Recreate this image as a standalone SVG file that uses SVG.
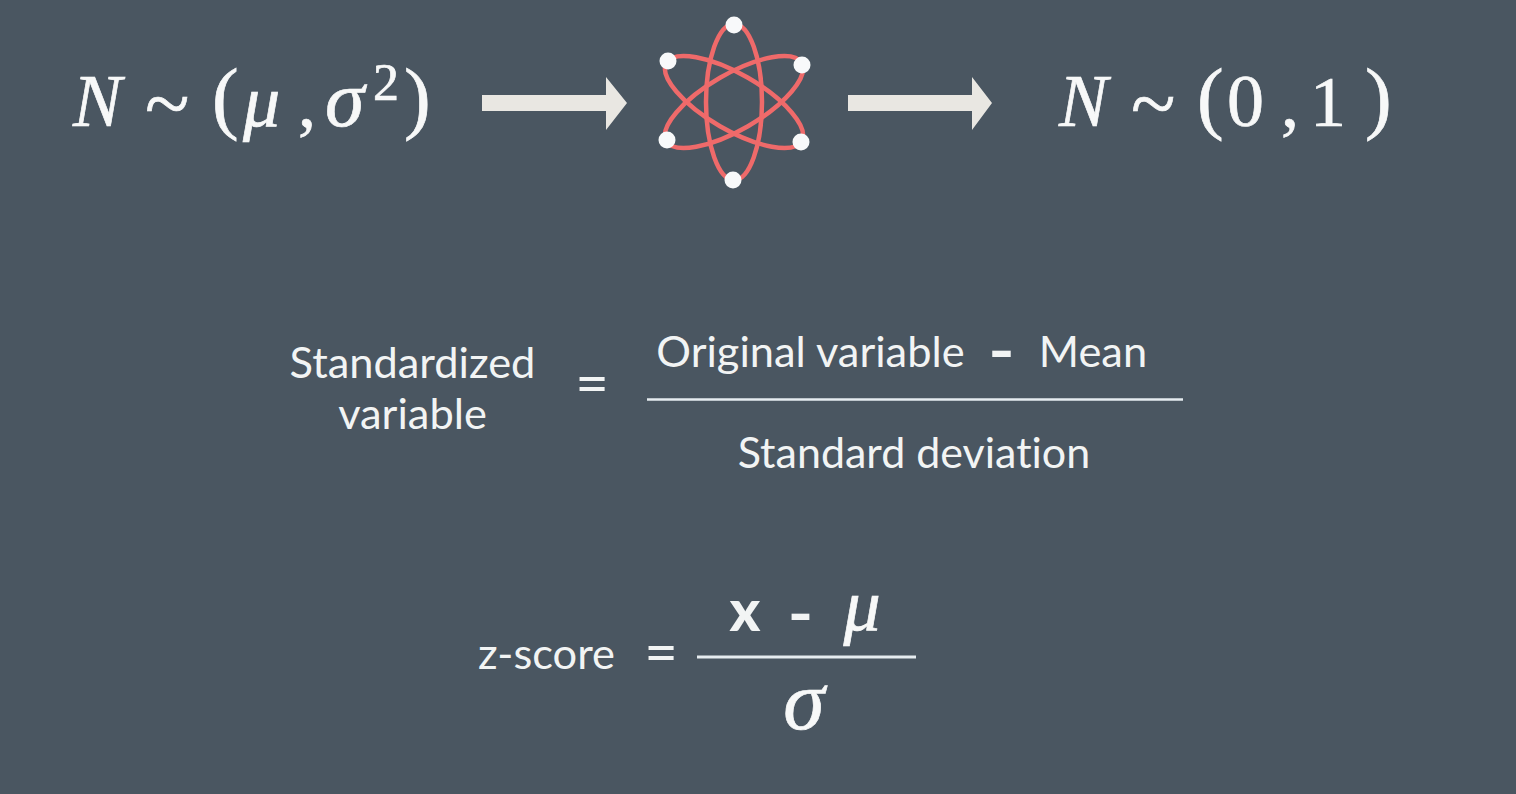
<svg xmlns="http://www.w3.org/2000/svg" width="1516" height="794" viewBox="0 0 1516 794">
<style>
.m{font-family:"Liberation Serif","DejaVu Serif",serif;fill:#f7f8f8;stroke:#f7f8f8;stroke-width:.7}
.i{font-style:italic}
.l{font-family:Lato,"Open Sans",sans-serif;fill:#f2f4f4;font-size:43.400px;font-variant-ligatures:none;text-anchor:middle}
.b{font-weight:900}
.orb{fill:none;stroke:#ef6a6a;stroke-width:4.500}
.dot{fill:#f8f9fa}
.arrow{fill:#e9e7e2}
.rule{stroke:#e6ecf0;stroke-width:2.500}
</style>
<rect width="1516" height="794" fill="#4a5661"/>
<g id="formula-original">
<text class="m i" x="73" y="126" font-size="73">N</text>
<text class="m" x="145" y="131" font-size="82">~</text>
<text class="m" x="212" y="124" font-size="80">(</text>
<text class="m i" x="243" y="126" font-size="74">μ</text>
<text class="m" x="298" y="126" font-size="72">,</text>
<text class="m i" x="325" y="126" font-size="80">σ</text>
<text class="m" x="373" y="100" font-size="52">2</text>
<text class="m" x="404" y="124" font-size="80">)</text>
</g>
<g id="atom">
<ellipse class="orb" cx="734" cy="102" rx="28" ry="78"/>
<ellipse class="orb" cx="734" cy="102" rx="28" ry="78" transform="rotate(60 734 102)"/>
<ellipse class="orb" cx="734" cy="102" rx="28" ry="78" transform="rotate(-60 734 102)"/>
<circle class="dot" cx="734" cy="25" r="8.500"/>
<circle class="dot" cx="668" cy="61" r="8.500"/>
<circle class="dot" cx="802" cy="65" r="8.500"/>
<circle class="dot" cx="667" cy="140" r="8.500"/>
<circle class="dot" cx="801" cy="142" r="8.500"/>
<circle class="dot" cx="733" cy="180" r="8.500"/>
</g>
<g id="connectors">
<polygon class="arrow" points="482,95 606,95 606,77 627,103 606,130 606,111 482,111"/>
<polygon class="arrow" points="848,95 972,95 972,77 992,103 972,130 972,111 848,111"/>
</g>
<g id="formula-standard">
<text class="m i" x="1059" y="126" font-size="73">N</text>
<text class="m" x="1131" y="131" font-size="82">~</text>
<text class="m" x="1197" y="124" font-size="80">(</text>
<text class="m" x="1227" y="126" font-size="74">0</text>
<text class="m" x="1281" y="126" font-size="72">,</text>
<text class="m" x="1310" y="126" font-size="72">1</text>
<text class="m" x="1365" y="124" font-size="80">)</text>
</g>
<g id="standardized-equation">
<text class="l" x="412.500" y="378">Standardized</text>
<text class="l" x="412.500" y="429">variable</text>
<text class="l" x="592" y="404" style="font-size:58px">=</text>
<text class="l b" x="1001.500" y="371" style="font-size:56px" textLength="26" lengthAdjust="spacingAndGlyphs">-</text>
<text class="l" x="810.500" y="367">Original variable</text>
<text class="l" x="1093" y="367">Mean</text>
<line class="rule" x1="647" y1="399.500" x2="1183" y2="399.500"/>
<text class="l" x="914" y="468" style="font-size:43px">Standard deviation</text>
</g>
<g id="zscore-equation">
<text class="l" x="546.500" y="669">z-score</text>
<text class="l" x="661" y="673" style="font-size:58px">=</text>
<text class="l b" x="745" y="631" style="font-size:58px">x</text>
<text class="l b" x="800.500" y="634" style="font-size:56px" textLength="25" lengthAdjust="spacingAndGlyphs">-</text>
<text class="m i" x="862" y="630" font-size="74" text-anchor="middle">μ</text>
<line class="rule" style="stroke-width:3" x1="697" y1="657" x2="916" y2="657"/>
<text class="m i" x="804" y="729" font-size="84" text-anchor="middle">σ</text>
</g>
</svg>
